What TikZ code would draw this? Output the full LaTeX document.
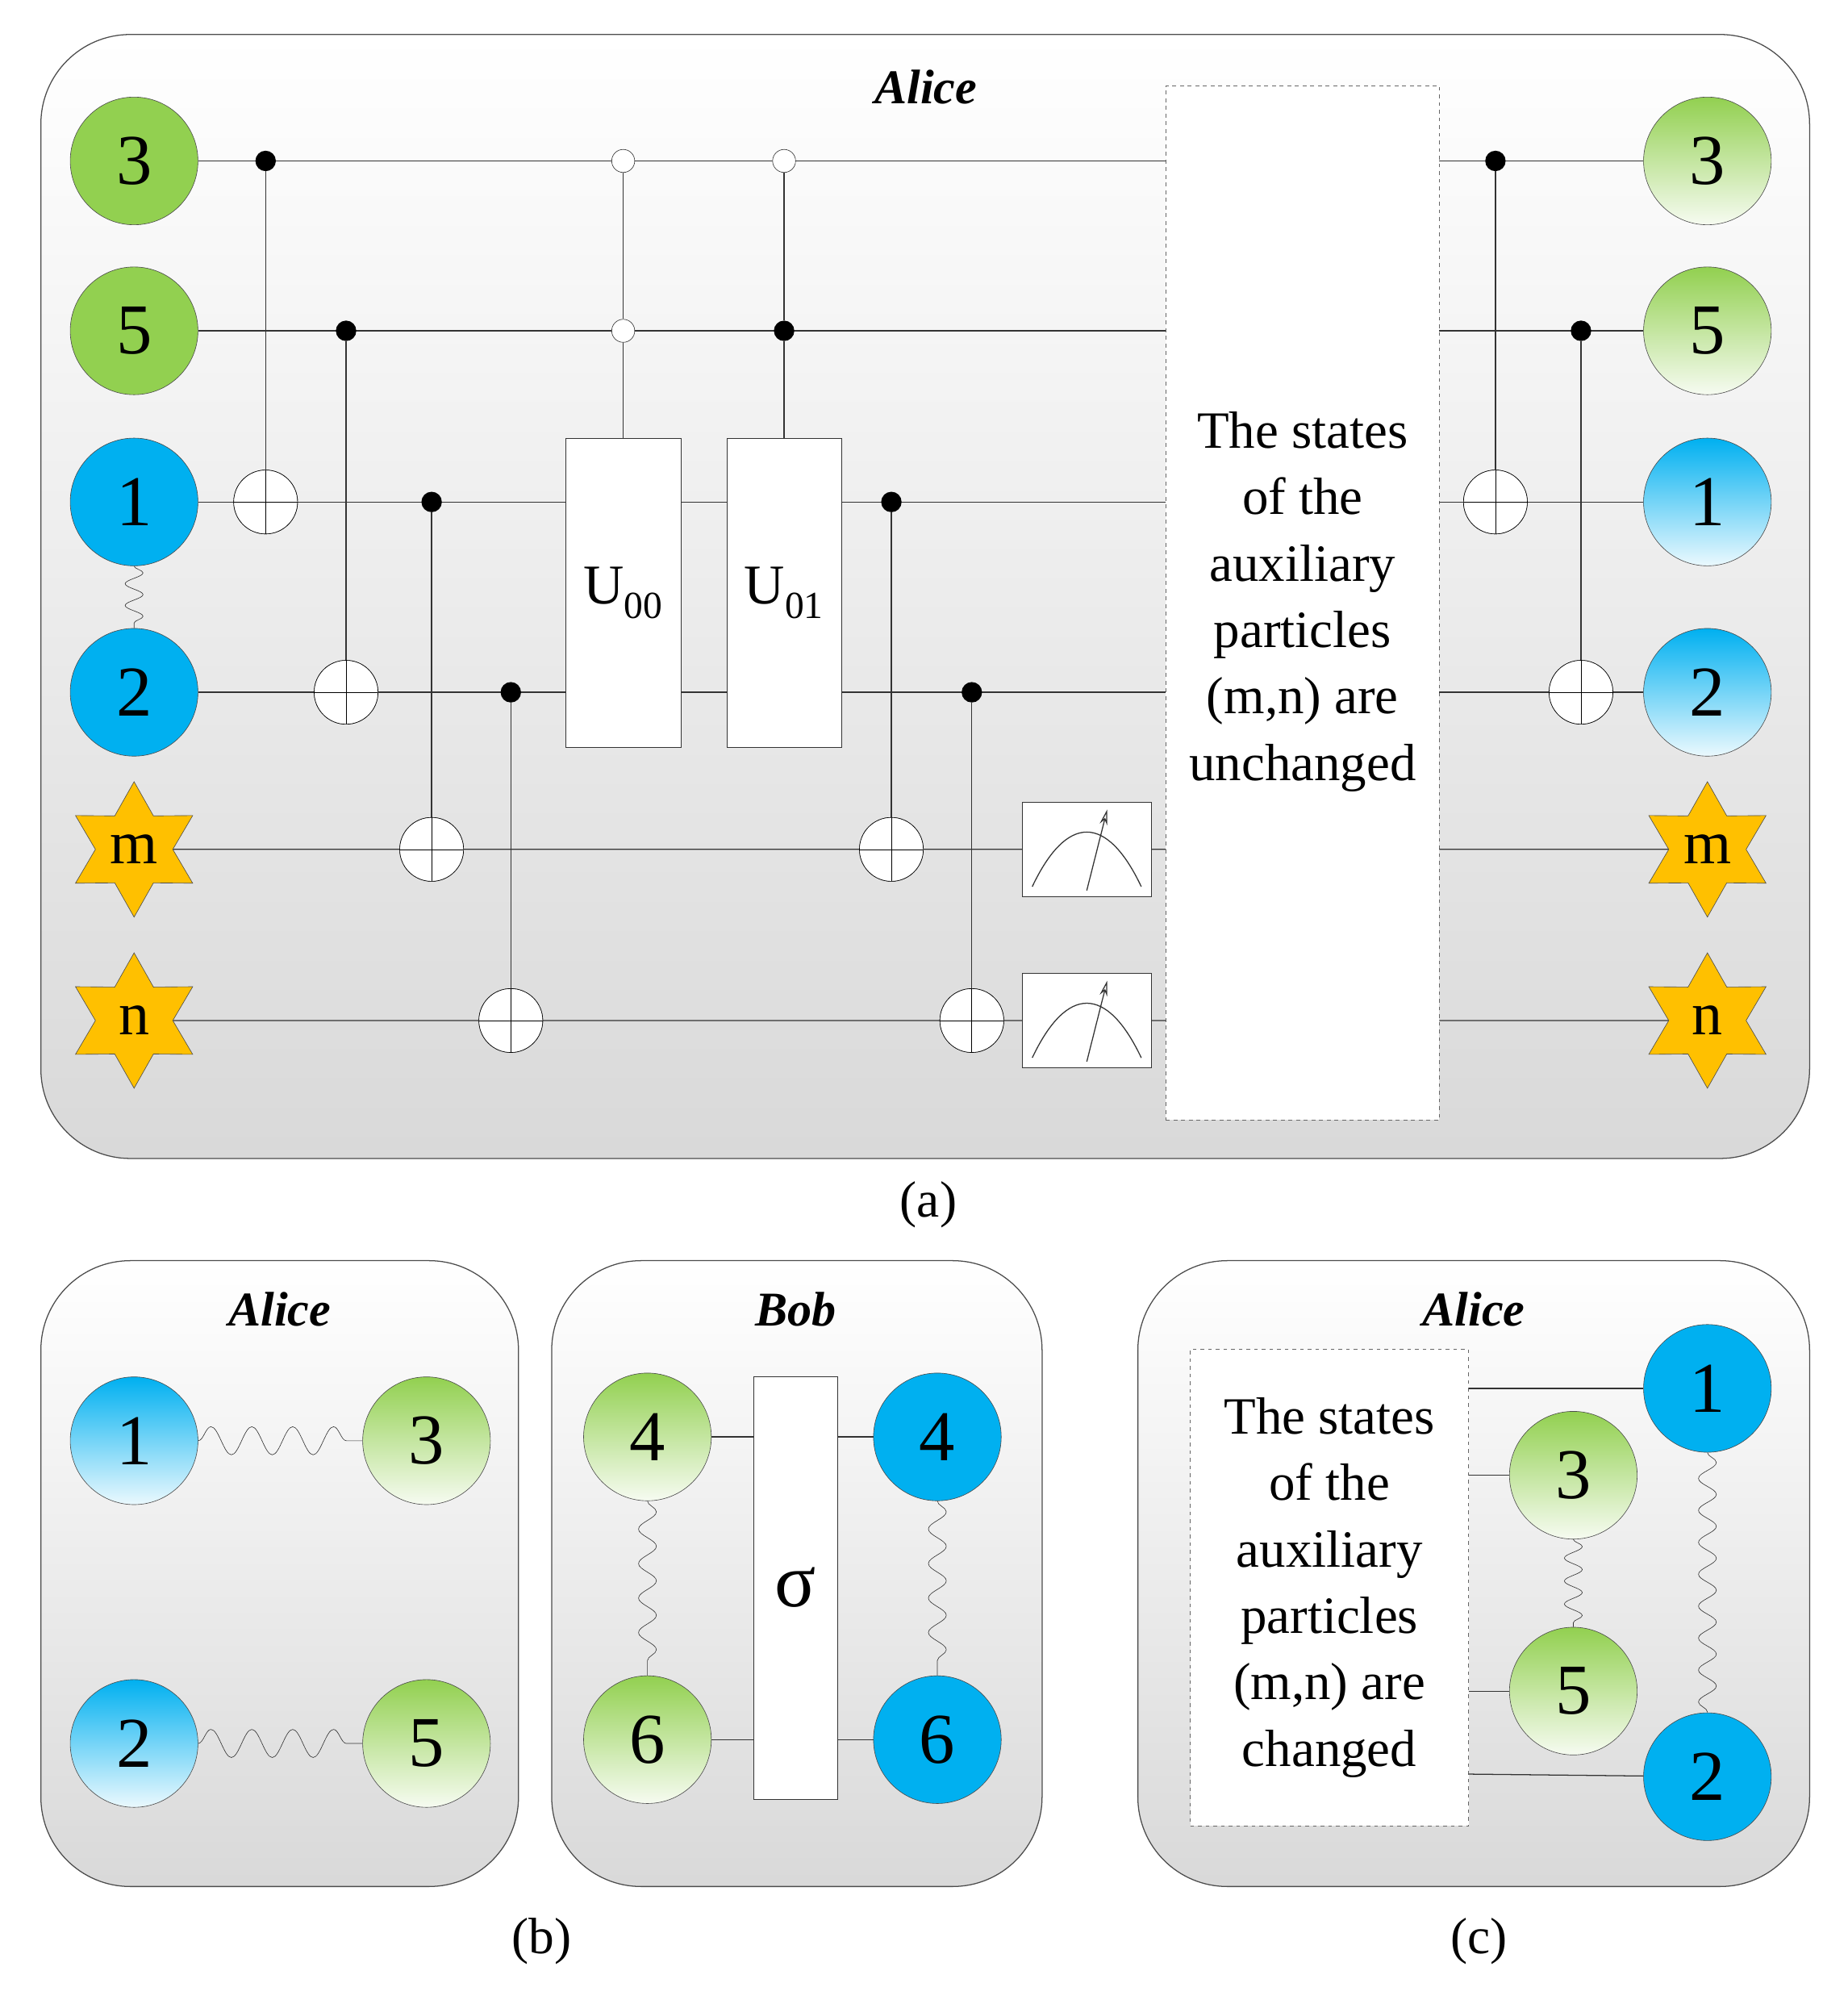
\documentclass[tikz,border=0pt]{standalone}
\usepackage{fontspec}
\setmainfont{Liberation Serif}
\usetikzlibrary{shapes.geometric,decorations.pathmorphing,arrows.meta}
\definecolor{qg}{HTML}{92D050}
\definecolor{qb}{HTML}{00B0F0}
\definecolor{qy}{HTML}{FFC000}
\begin{document}
\begin{tikzpicture}[x=1pt,y=-1pt,
 panel/.style={draw=black!70,line width=0.8pt,rounded corners=70pt,top color=white,bottom color=black!15},
 q/.style={circle,draw=black!70,minimum size=100pt,inner sep=0pt,font=\fontsize{56}{56}\selectfont},
 qG/.style={q,fill=qg},
 qB/.style={q,fill=qb},
 qGg/.style={q,top color=qg,bottom color=qg!8},
 qBg/.style={q,top color=qb,bottom color=qb!8},
 st/.style={star,star points=6,star point ratio=1.75,draw=black!70,fill=qy,minimum size=106pt,inner sep=0pt,font=\fontsize{48}{48}\selectfont},
 ctl/.style={circle,fill=black,minimum size=16pt,inner sep=0pt},
 oc/.style={circle,draw=black!80,fill=white,minimum size=18pt,inner sep=0pt},
 targ/.style={circle,draw=black,fill=white,minimum size=50pt,inner sep=0pt,path picture={\draw (path picture bounding box.north)--(path picture bounding box.south) (path picture bounding box.west)--(path picture bounding box.east);}},
 box/.style={draw=black!80,fill=white,inner sep=0pt},
 dbox/.style={draw=black!60,dashed,fill=white,inner sep=0pt},
 txt/.style={font=\fontsize{41}{52}\selectfont,align=center},
 ttl/.style={font=\fontsize{38}{38}\selectfont\bfseries\itshape},
 captxt/.style={font=\fontsize{40}{40}\selectfont},
 w/.style={black!80,line width=0.8pt},
 wave/.style={black!80,decorate,decoration={snake,segment length=#1,amplitude=7pt}},
 wave/.default=17pt,
 wave2/.style={black!80,decorate,decoration={snake,segment length=32pt,amplitude=11pt}}]
\useasboundingbox (0,0) rectangle (1447,1569);
% ---------- panel (a)
\path[panel] (32,27) rectangle (1417,907);
\node[ttl] (ta) at (725,68) {Alice};
\node[dbox,minimum width=214pt,minimum height=810pt] (big) at (1020,472) {};
\node[txt] (bigt) at (1020,471) {The states\\of the\\auxiliary\\particles\\(m,n) are\\unchanged};
\node[qG] (L3) at (105,126) {3};
\node[qG] (L5) at (105,259) {5};
\node[qB] (L1) at (105,393) {1};
\node[qB] (L2) at (105,542) {2};
\node[st] (Lm) at (105,665) {m};
\node[st] (Ln) at (105,799) {n};
\node[qGg] (R3) at (1337,126) {3};
\node[qGg] (R5) at (1337,259) {5};
\node[qBg] (R1) at (1337,393) {1};
\node[qBg] (R2) at (1337,542) {2};
\node[st] (Rm) at (1337,665) {m};
\node[st] (Rn) at (1337,799) {n};
\draw[wave] (L1) -- (L2);
\foreach \r/\y in {3/126,5/259,1/393,2/542,m/665,n/799}{
 \coordinate (bl\r) at (913,\y); \coordinate (br\r) at (1127,\y);
 \draw[w] (L\r) -- (bl\r); \draw[w] (br\r) -- (R\r);}
% gates
\node[box,minimum width=90pt,minimum height=242pt,font=\fontsize{44}{44}\selectfont] (U0) at (488,464) {U\textsubscript{\fontsize{30}{30}\selectfont 00}};
\node[box,minimum width=90pt,minimum height=242pt,font=\fontsize{44}{44}\selectfont] (U1) at (614,464) {U\textsubscript{\fontsize{30}{30}\selectfont 01}};
\node[oc] (o1) at (488,126) {}; \node[oc] (o2) at (488,259) {};
\node[oc] (o3) at (614,126) {}; \node[ctl] (c6) at (614,259) {};
\draw[w] (o1)--(o2) (o2)--(U0); \draw[w] (o3)--(c6) (c6)--(U1);
\foreach \n/\x/\cy/\ty in {a/208/126/393,b/271/259/542,c/338/393/665,d/400/542/799,e/698/393/665,f/761/542/799,g/1171/126/393,h/1238/259/542}{
 \node[targ] (t\n) at (\x,\ty) {};
 \node[ctl] (c\n) at (\x,\cy) {};
 \draw[w] (c\n) -- (t\n.center);
 \node[targ] at (t\n) {};}
\foreach \n/\y in {1/665,2/799}{
 \node[box,minimum width=101pt,minimum height=74pt] (M\n) at (851,\y) {};
 \draw[w] ([shift={(8,-8)}]M\n.south west) .. controls ([shift={(35,-65)}]M\n.south west) and ([shift={(-35,-65)}]M\n.south east) .. ([shift={(-8,-8)}]M\n.south east);
 \draw[w,-{Stealth[length=12pt,width=6pt,open]}] ([shift={(0,-5)}]M\n.south) -- ([shift={(16,6)}]M\n.north);}
\node[captxt] (ca) at (727,943) {(a)};
% ---------- panel (b)
\path[panel] (32,987) rectangle (406,1477);
\path[panel] (432,987) rectangle (816,1477);
\node[ttl] at (219,1025) {Alice};
\node[ttl] at (623,1025) {Bob};
\node[qBg] (b1) at (105,1128) {1};
\node[qGg] (b3) at (334,1128) {3};
\node[qBg] (b2) at (105,1365) {2};
\node[qGg] (b5) at (334,1365) {5};
\draw[wave2] (b1) -- (b3); \draw[wave2] (b2) -- (b5);
\node[box,minimum width=66pt,minimum height=331pt,font=\fontsize{60}{60}\selectfont] (sg) at (623,1243) {σ};
\node[qGg] (g4) at (507,1125) {4};
\node[qGg] (g6) at (507,1362) {6};
\node[qB] (B4) at (734,1125) {4};
\node[qB] (B6) at (734,1362) {6};
\draw[w] (g4) -- (g4 -| sg.west); \draw[w] (g6) -- (g6 -| sg.west);
\draw[w] (B4) -- (B4 -| sg.east); \draw[w] (B6) -- (B6 -| sg.east);
\draw[wave=27pt] (g4) -- (g6); \draw[wave=27pt] (B4) -- (B6);
\node[captxt] at (424,1520) {(b)};
% ---------- panel (c)
\path[panel] (891,987) rectangle (1417,1477);
\node[ttl] at (1154,1025) {Alice};
\node[dbox,minimum width=218pt,minimum height=373pt] (sb) at (1041,1243) {};
\node[txt] at (1041,1243) {The states\\of the\\auxiliary\\particles\\(m,n) are\\changed};
\node[qB] (c1) at (1337,1087) {1};
\node[qGg] (cc3) at (1232,1155) {3};
\node[qGg] (cc5) at (1232,1324) {5};
\node[qB] (cc2) at (1337,1391) {2};
\coordinate (s1) at (1150,1087); \coordinate (s3) at (1150,1155);
\coordinate (s5) at (1150,1324); \coordinate (s2) at (1150,1389);
\draw[w] (s1) -- (c1); \draw[w] (s3) -- (cc3); \draw[w] (s5) -- (cc5); \draw[w] (s2) -- (cc2);
\draw[wave=18pt] (cc3) -- (cc5); \draw[wave=25pt] (c1) -- (cc2);
\node[captxt] at (1158,1520) {(c)};
\end{tikzpicture}
\end{document}
